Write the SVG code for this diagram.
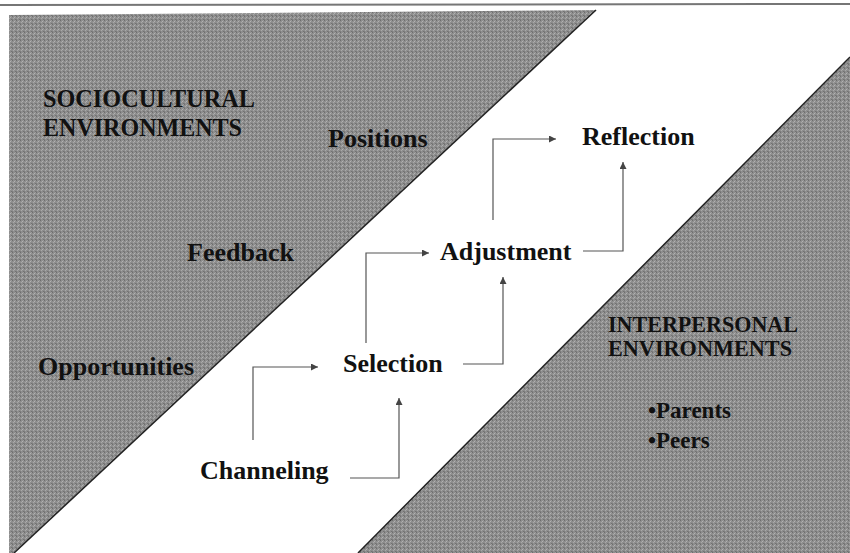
<svg xmlns="http://www.w3.org/2000/svg" width="850" height="553" viewBox="0 0 850 553">
  <defs>
    <pattern id="halftone" width="4" height="4" patternUnits="userSpaceOnUse">
      <rect width="4" height="4" fill="#8e8e8e"/>
      <rect x="0" y="0" width="1" height="1" fill="#6e6e6e"/>
      <rect x="2" y="1" width="1" height="1" fill="#b2b2b2"/>
      <rect x="1" y="2" width="1" height="1" fill="#a8a8a8"/>
      <rect x="3" y="3" width="1" height="1" fill="#727272"/>
      <rect x="3" y="0" width="1" height="1" fill="#9c9c9c"/>
      <rect x="0" y="3" width="1" height="1" fill="#7e7e7e"/>
    </pattern>
    <marker id="arrow" viewBox="0 0 10 10" refX="10" refY="5" markerWidth="9" markerHeight="7" markerUnits="userSpaceOnUse" orient="auto">
      <path d="M0,0 L10,5 L0,10 z" fill="#444"/>
    </marker>
    <style>
      .region { fill: url(#halftone); }
      .edge { fill: none; stroke: #222; stroke-width: 1.5; }
      .lbl { font-family: "Liberation Serif", "Times New Roman", serif; font-weight: bold; font-size: 26px; fill: #111; }
      .env { font-family: "Liberation Serif", "Times New Roman", serif; font-weight: bold; fill: #111; }
      .conn { fill: none; stroke: #555; stroke-width: 1.2; }
    </style>
  </defs>

  <rect width="850" height="553" fill="#ffffff"/>
  <line x1="0" y1="5" x2="850" y2="4" stroke="#555" stroke-width="2" opacity="0.8"/>

  <g id="sociocultural-region">
    <polygon class="region" points="9,15 596,10 14,553 9,553"/>
    <line class="edge" x1="596" y1="10" x2="14" y2="553"/>
  </g>

  <g id="interpersonal-region">
    <polygon class="region" points="850,57 850,553 358,553"/>
    <line class="edge" x1="850" y1="57" x2="358" y2="553"/>
  </g>

  <g id="sociocultural-label">
    <text class="env" x="43" y="107" font-size="25" textLength="212" lengthAdjust="spacingAndGlyphs">SOCIOCULTURAL</text>
    <text class="env" x="43" y="136" font-size="25" textLength="199" lengthAdjust="spacingAndGlyphs">ENVIRONMENTS</text>
  </g>
  <g id="positions"><text class="lbl" x="328" y="147">Positions</text></g>
  <g id="feedback"><text class="lbl" x="187" y="261">Feedback</text></g>
  <g id="opportunities"><text class="lbl" x="38" y="375">Opportunities</text></g>

  <g id="interpersonal-label">
    <text class="env" x="608" y="332" font-size="23" textLength="190" lengthAdjust="spacingAndGlyphs">INTERPERSONAL</text>
    <text class="env" x="608" y="356" font-size="23" textLength="184" lengthAdjust="spacingAndGlyphs">ENVIRONMENTS</text>
  </g>
  <g id="parents"><text class="env" x="648" y="418" font-size="23">•Parents</text></g>
  <g id="peers"><text class="env" x="648" y="448" font-size="23">•Peers</text></g>

  <g id="channeling"><text class="lbl" x="200" y="479">Channeling</text></g>
  <g id="selection"><text class="lbl" x="343" y="372">Selection</text></g>
  <g id="adjustment"><text class="lbl" x="440" y="260">Adjustment</text></g>
  <g id="reflection"><text class="lbl" x="582" y="145">Reflection</text></g>

  <g id="connectors">
    <path class="conn" d="M253,440 V367 H318" marker-end="url(#arrow)"/>
    <path class="conn" d="M350,478 H399 V398" marker-end="url(#arrow)"/>
    <path class="conn" d="M366,343 V253 H429" marker-end="url(#arrow)"/>
    <path class="conn" d="M463,364 H503 V277" marker-end="url(#arrow)"/>
    <path class="conn" d="M493,220 V139 H556" marker-end="url(#arrow)"/>
    <path class="conn" d="M583,251 H623 V162" marker-end="url(#arrow)"/>
  </g>
</svg>
